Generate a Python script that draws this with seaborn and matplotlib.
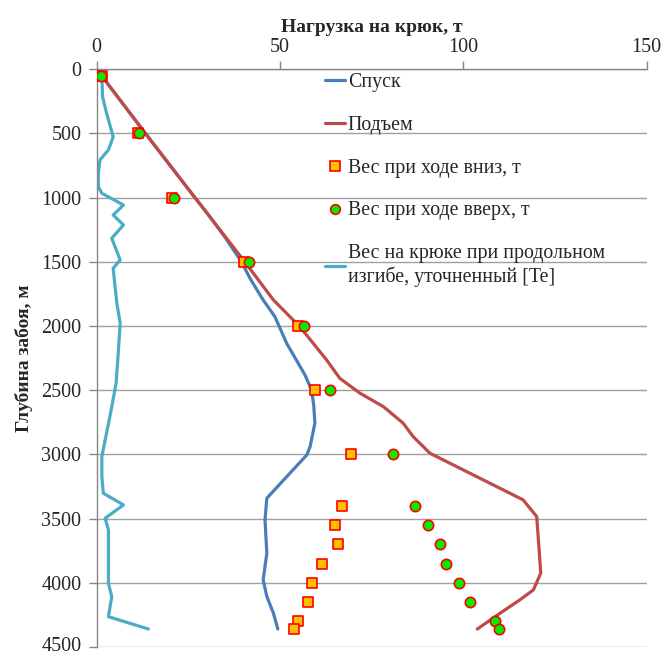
import matplotlib
matplotlib.use("Agg")
import matplotlib.pyplot as plt
import matplotlib.transforms as mtransforms
import seaborn as sns
import pandas as pd
from matplotlib.lines import Line2D

# ---- data ----
down_depth = [0, 500, 1000, 1100, 1300, 1500, 1628, 1797, 1927, 2134, 2381, 2498, 2620, 2757,
              2939, 3004, 3146, 3341, 3510, 3769, 3977, 4107, 4237, 4360]
down_load = [0, 13.3, 26.8, 29.6, 34.8, 39.5, 41.8, 45.4, 48.6, 51.8, 56.8, 58.6, 59.2, 59.5,
             58.2, 57.3, 52.7, 46.4, 45.9, 46.4, 45.4, 46.4, 48.2, 49.4]

up_depth = [0, 500, 1000, 1500, 1797, 2005, 2264, 2407, 2523, 2628, 2757, 2861, 2991, 3121,
            3251, 3354, 3484, 3640, 3800, 3925, 4055, 4133, 4237, 4360]
up_load = [0, 13.3, 26.8, 40.4, 48.2, 55.4, 62.7, 66.3, 71.8, 78.2, 83.6, 86.3, 90.9, 100.0,
           109.1, 116.3, 120.0, 120.4, 120.8, 121.1, 119.1, 115.4, 110.0, 103.8]

pt_depth = [50, 500, 1000, 1500, 2000, 2500, 3000, 3400, 3550, 3700, 3850, 4000, 4150, 4300, 4360]
pt_down = [1.4, 11.2, 20.4, 40.2, 54.8, 59.6, 69.4, 66.8, 64.9, 65.7, 61.4, 58.8, 57.6, 54.9, 53.8]
pt_up = [1.3, 11.6, 21.1, 41.6, 56.4, 63.6, 80.9, 86.8, 90.3, 93.7, 95.3, 98.7, 101.7, 108.7, 109.7]

te_depth = [44, 213, 343, 525, 628, 706, 810, 914, 966, 1057, 1135, 1213, 1316, 1485, 1550,
            1693, 1823, 1979, 2200, 2445, 2705, 3016, 3172, 3302, 3393, 3497, 3588, 3796,
            4004, 4108, 4264, 4360]
te_load = [1.4, 1.6, 2.7, 4.5, 3.2, 0.9, 0.45, 0.45, 1.4, 7.3, 4.5, 7.3, 4.1, 6.4, 4.5,
           5.0, 5.5, 6.4, 5.9, 5.3, 3.6, 1.4, 1.4, 1.8, 7.3, 2.3, 3.2, 3.2,
           3.2, 4.1, 3.2, 14.1]

x_ticks = [0, 50, 100, 150]
y_ticks = [0, 500, 1000, 1500, 2000, 2500, 3000, 3500, 4000, 4500]

labels = ["Спуск", "Подъем", "Вес при ходе вниз, т", "Вес при ходе вверх, т",
          "Вес на крюке при продольном\nизгибе, уточненный [Te]"]
x_title = "Нагрузка на крюк, т"
y_title = "Глубина забоя, м"

# ---- style ----
sns.set_style("white")
plt.rcParams['font.family'] = ['Liberation Serif', 'DejaVu Serif']
plt.rcParams['font.size'] = 12

c_down = "#4A7EBB"
c_up = "#BE4B48"
c_te = "#4BACC6"
grid_c = "#A0A0A0"

fig = plt.figure(figsize=(6.64, 6.57), dpi=100)
ax = fig.add_axes([96.7 / 664, 1 - 647 / 657, 550 / 664, (647 - 69.3) / 657])

df_down = pd.DataFrame({"t": down_load, "d": down_depth})
df_up = pd.DataFrame({"t": up_load, "d": up_depth})
df_te = pd.DataFrame({"t": te_load, "d": te_depth})
df_pt = pd.DataFrame({"d": pt_depth, "dn": pt_down, "up": pt_up})

sns.lineplot(data=df_down, x="t", y="d", sort=False, estimator=None, color=c_down, lw=2.3, ax=ax)
sns.lineplot(data=df_up, x="t", y="d", sort=False, estimator=None, color=c_up, lw=2.3, ax=ax)
sns.scatterplot(data=df_pt, x="dn", y="d", marker="s", s=55, color="#FFC000",
                edgecolor="#FF0000", linewidth=1.2, ax=ax, zorder=4)
sns.scatterplot(data=df_pt, x="up", y="d", marker="o", s=55, color="#00EE00",
                edgecolor="#FF0000", linewidth=1.2, ax=ax, zorder=4)
sns.lineplot(data=df_te, x="t", y="d", sort=False, estimator=None, color=c_te, lw=2.3, ax=ax)

ax.set_xlim(0, 150)
ax.set_ylim(4500, 0)
ax.set_xticks(x_ticks)
ax.set_yticks(y_ticks)
ax.xaxis.tick_top()
ax.xaxis.set_label_position("top")
ax.set_xlabel(x_title, fontweight="bold", fontsize=14, labelpad=4)
ax.set_ylabel(y_title, fontweight="bold", fontsize=14, labelpad=6)
ax.tick_params(axis="both", which="both", direction="out", length=6, width=1,
               color="#868686", labelsize=14.5, pad=5)
ax.tick_params(axis="x", top=True, bottom=False, pad=3)
ax.tick_params(axis="y", left=True)

# keep the bottom tick label inside the figure
last = ax.get_yticklabels()[-1]
last.set_transform(last.get_transform() +
                   mtransforms.ScaledTranslation(0, 3 / 100, fig.dpi_scale_trans))

ax.grid(axis="y", color=grid_c, lw=1)
ax.grid(axis="x", visible=False)
for s in ["right", "bottom"]:
    ax.spines[s].set_visible(False)
for s in ["left", "top"]:
    ax.spines[s].set_color("#868686")
    ax.spines[s].set_linewidth(1)

handles = [
    Line2D([], [], color=c_down, lw=2.3),
    Line2D([], [], color=c_up, lw=2.3),
    Line2D([], [], marker="s", ls="", markersize=7, markerfacecolor="#FFC000",
           markeredgecolor="#FF0000", markeredgewidth=1.2),
    Line2D([], [], marker="o", ls="", markersize=7, markerfacecolor="#00EE00",
           markeredgecolor="#FF0000", markeredgewidth=1.2),
    Line2D([], [], color=c_te, lw=2.3),
]
leg = fig.legend(handles, labels, loc="upper left", bbox_to_anchor=(325 / 664, 1 - 73 / 657),
                 frameon=False, fontsize=14.3, handlelength=1.0, handletextpad=0.15,
                 labelspacing=1.2, borderpad=0, borderaxespad=0)

fig.savefig("out.png", dpi=100)
